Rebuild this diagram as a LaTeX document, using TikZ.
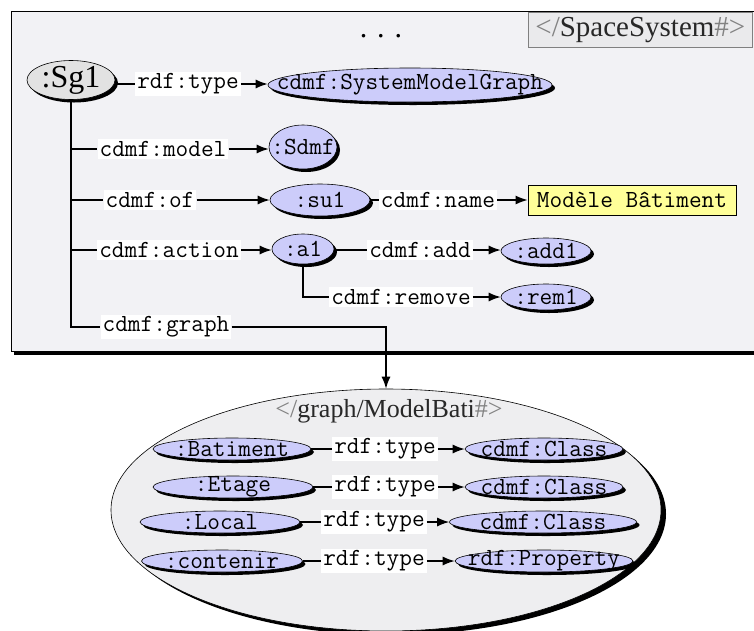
\documentclass[tikz,border=0pt]{standalone}
\usepackage{fontspec}
\setmainfont{Liberation Serif}
\usetikzlibrary{shapes.geometric,shadows,arrows.meta}
\definecolor{lav}{RGB}{204,204,250}
\definecolor{sgfill}{RGB}{226,226,226}
\definecolor{framebg}{RGB}{242,242,245}
\definecolor{bigbg}{RGB}{238,238,240}
\definecolor{titlebg}{RGB}{234,234,236}
\definecolor{ybox}{RGB}{255,255,153}
\definecolor{titledark}{RGB}{40,40,40}
\definecolor{titlelight}{RGB}{130,130,130}
\tikzset{
  mono/.style={font=\ttfamily\fontsize{24.6}{27}\selectfont},
  ell/.style={ellipse, draw=black, line width=0.6pt, fill=lav, inner sep=0pt,
              drop shadow={shadow xshift=3pt, shadow yshift=-3pt, fill=black, opacity=1},
              label={[mono, inner sep=0pt]center:{#1}}},
  elab/.style={mono, fill=white, inner xsep=2pt, inner ysep=2pt},
  ln/.style={line width=1.3pt, draw=black},
  arr/.style={ln, -{Latex[length=12pt,width=9pt]}}
}
\begin{document}
\begin{tikzpicture}[x=1pt,y=-1pt]
\useasboundingbox (0,0) rectangle (754,630);
\clip (0,0) rectangle (754,630);
% top frame
\draw[fill=framebg, line width=0.8pt, drop shadow={shadow xshift=3pt, shadow yshift=-4pt, fill=black, opacity=1}] (11,11) rectangle (790,351);
\node[draw=gray, line width=0.8pt, fill=titlebg, anchor=west, inner xsep=7pt, minimum height=35pt,
      font=\fontsize{29}{32}\selectfont, text=titledark] (ss) at (528,30) {\textcolor{titlelight}{</}SpaceSystem\textcolor{titlelight}{\#>}};
\node[font=\fontsize{30}{32}\selectfont] (dots) at (381,36) {. . .};
% nodes top
\node[ellipse, draw=black, line width=0.6pt, fill=sgfill, inner sep=0pt, minimum width=88pt, minimum height=39pt,
      drop shadow={shadow xshift=3pt, shadow yshift=-3pt, fill=black, opacity=1},
      label={[font=\fontsize{32}{34}\selectfont, inner sep=0pt]center::Sg1}] (sg1) at (71,80) {};
\node[elab] (lt) at (188,84) {rdf:type};
\node[ell={cdmf:SystemModelGraph}, minimum width=284pt, minimum height=34pt] (smg) at (410,85) {};
\node[elab] (ml) at (163,149) {cdmf:model};
\node[ell={:Sdmf}, minimum width=68pt, minimum height=44pt] (sdmf) at (303,147) {};
\node[elab] (ofl) at (150,200) {cdmf:of~};
\node[ell={:su1}, minimum width=100pt, minimum height=32pt] (su1) at (320,200) {};
\node[elab] (nml) at (438,200) {cdmf:name};
\node[draw=black, line width=0.8pt, fill=ybox, mono, minimum width=208pt, minimum height=30pt, inner sep=0pt] (yb) at (632,200) {Modèle Bâtiment};
\node[elab] (al) at (169,250) {cdmf:action};
\node[ell={:a1}, minimum width=62pt, minimum height=30pt] (a1) at (303,249) {};
\node[elab] (addl) at (420,250) {cdmf:add};
\node[ell={:add1}, minimum width=90pt, minimum height=26pt] (add1) at (546,251) {};
\node[elab] (reml) at (401,297) {cdmf:remove};
\node[ell={:rem1}, minimum width=90pt, minimum height=26pt] (rem1) at (546,297) {};
\node[elab] (gl) at (166,327) {cdmf:graph};
% big ellipse
\node[ellipse, draw=black, line width=0.6pt, fill=bigbg, inner sep=0pt, minimum width=550pt, minimum height=242pt,
      drop shadow={shadow xshift=5pt, shadow yshift=-4pt, fill=black, opacity=1}] (big) at (386,510) {};
\node[font=\fontsize{26}{28}\selectfont, text=titledark] (gt) at (389,411) {\textcolor{titlelight}{</}graph/ModelBati\textcolor{titlelight}{\#>}};
\node[ell={:Batiment}, minimum width=158pt, minimum height=22pt] (bat) at (232,449) {};
\node[elab] (l1) at (385,449) {rdf:type};
\node[ell={cdmf:Class}, minimum width=158pt, minimum height=22pt] (c1) at (544,449) {};
\node[ell={:Etage}, minimum width=160pt, minimum height=22pt] (eta) at (233,487) {};
\node[elab] (l2) at (385,487) {rdf:type};
\node[ell={cdmf:Class}, minimum width=158pt, minimum height=22pt] (c2) at (544,487) {};
\node[ell={:Local}, minimum width=160pt, minimum height=22pt] (loc) at (220,522) {};
\node[elab] (l3) at (374,522) {rdf:type};
\node[ell={cdmf:Class}, minimum width=187pt, minimum height=22pt] (c3) at (543,522) {};
\node[ell={:contenir}, minimum width=161pt, minimum height=22pt] (con) at (222,561) {};
\node[elab] (l4) at (374,561) {rdf:type};
\node[ell={rdf:Property}, minimum width=178pt, minimum height=22pt] (c4) at (544,561) {};
% connectors top
\draw[ln] (sg1.east |- lt.west) -- (lt.west);
\draw[arr] (lt.east) -- (smg.west |- lt.east);
\draw[ln] (sg1.south) -- (sg1.south |- gl.west) -- (gl.west);
\draw[ln] (sg1.south |- ml.west) -- (ml.west);
\draw[arr] (ml.east) -- (sdmf.west |- ml.east);
\draw[ln] (sg1.south |- ofl.west) -- (ofl.west);
\draw[arr] (ofl.east) -- (su1.west);
\draw[ln] (su1.east) -- (nml.west);
\draw[arr] (nml.east) -- (yb.west);
\draw[ln] (sg1.south |- al.west) -- (al.west);
\draw[arr] (al.east) -- (a1.west |- al.east);
\draw[ln] (a1.east |- addl.west) -- (addl.west);
\draw[arr] (addl.east) -- (add1.west |- addl.east);
\draw[ln] (a1.south) -- (a1.south |- reml.west) -- (reml.west);
\draw[arr] (reml.east) -- (rem1.west);
\draw[arr] (gl.east) -- (gl.east -| big.north) -- (big.north);
% connectors inner
\draw[ln] (bat.east) -- (l1.west);
\draw[arr] (l1.east) -- (c1.west);
\draw[ln] (eta.east) -- (l2.west);
\draw[arr] (l2.east) -- (c2.west);
\draw[ln] (loc.east) -- (l3.west);
\draw[arr] (l3.east) -- (c3.west);
\draw[ln] (con.east) -- (l4.west);
\draw[arr] (l4.east) -- (c4.west);
\end{tikzpicture}
\end{document}
